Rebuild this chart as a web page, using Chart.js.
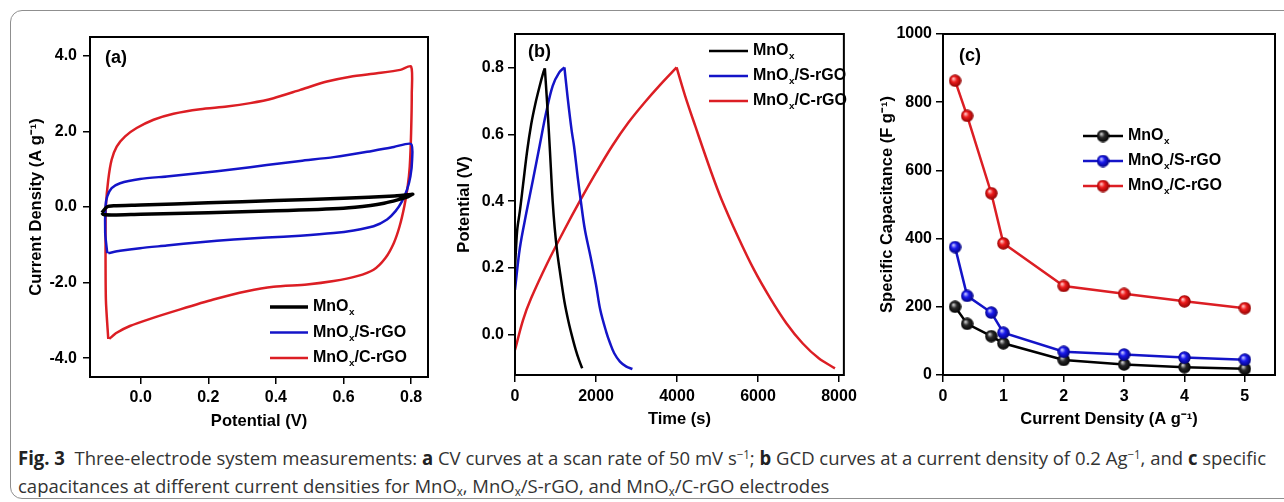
<!DOCTYPE html>
<html><head><meta charset="utf-8">
<script src="https://cdn.jsdelivr.net/npm/chart.js@4.4.1/dist/chart.umd.min.js"></script>
<style>
html,body{margin:0;padding:0;background:#fff;}
body{width:1284px;height:502px;position:relative;overflow:hidden;}
#frame{position:absolute;left:10px;top:10px;width:1300px;height:489px;border:1.5px solid #8f8f8f;border-radius:12px;box-sizing:border-box;}
canvas{position:absolute;top:0;}
#ca{left:0;}
#cb{left:440px;}
#cc{left:862px;}
.cap{position:absolute;left:18px;white-space:nowrap;font-family:"Open Sans",sans-serif;font-size:19px;line-height:24px;color:#333;transform-origin:0 50%;}
.cap b{color:#222;}
.cap .fig{font-weight:700;}
.cap sup{font-size:0.62em;vertical-align:0.55em;line-height:0;}
.cap sub{font-size:0.62em;vertical-align:-0.25em;line-height:0;}
</style></head>
<body>
<div id="frame"></div>
<canvas id="ca" width="440" height="440"></canvas>
<canvas id="cb" width="422" height="440"></canvas>
<canvas id="cc" width="422" height="440"></canvas>
<div class="cap" id="cap1" style="top:446px"><b class="fig">Fig. 3</b>&nbsp; Three-electrode system measurements: <b>a</b> CV curves at a scan rate of 50 mV s<sup>−1</sup>; <b>b</b> GCD curves at a current density of 0.2 Ag<sup>−1</sup>, and <b>c</b> specific</div>
<div class="cap" id="cap2" style="top:474px">capacitances at different current densities for MnO<sub>x</sub>, MnO<sub>x</sub>/S-rGO, and MnO<sub>x</sub>/C-rGO electrodes</div>
<script>
// ---------------- DATA ----------------
const SERIES_NAMES = ['MnO_x', 'MnO_x/S-rGO', 'MnO_x/C-rGO'];

// (a) CV curves: potential (V) vs current density (A g-1)
const CV_MNOX_V = [-0.115,-0.100,-0.080,0.000,0.200,0.400,0.600,0.750,0.800,0.805,0.790,0.760,0.720,0.680,0.600,0.400,0.200,0.000,-0.080,-0.110,-0.115];
const CV_MNOX_J = [-0.15,0.00,0.03,0.05,0.11,0.17,0.23,0.29,0.33,0.34,0.27,0.19,0.10,0.04,-0.03,-0.10,-0.15,-0.19,-0.21,-0.20,-0.15];
const CV_S_V = [-0.099,-0.105,-0.104,-0.099,-0.086,-0.061,-0.002,0.077,0.176,0.275,0.373,0.472,0.571,0.670,0.749,0.800,0.803,0.798,0.788,0.773,0.754,0.729,0.689,0.630,0.571,0.472,0.373,0.275,0.176,0.077,-0.002,-0.061,-0.096];
const CV_S_J = [-1.22,-0.69,0.02,0.28,0.50,0.63,0.74,0.81,0.90,1.00,1.11,1.22,1.32,1.46,1.59,1.67,1.25,0.81,0.46,0.15,-0.11,-0.33,-0.51,-0.62,-0.69,-0.76,-0.81,-0.86,-0.93,-1.02,-1.09,-1.16,-1.22];
const CV_C_V = [-0.096,-0.103,-0.104,-0.103,-0.096,-0.086,-0.071,-0.046,-0.012,0.038,0.097,0.176,0.255,0.324,0.393,0.472,0.551,0.620,0.699,0.768,0.800,0.802,0.800,0.796,0.790,0.780,0.766,0.749,0.724,0.689,0.640,0.571,0.492,0.393,0.314,0.215,0.117,0.028,-0.032,-0.071,-0.093];
const CV_C_J = [-3.49,-2.45,-0.69,0.02,0.72,1.25,1.60,1.87,2.09,2.31,2.47,2.59,2.66,2.75,2.88,3.10,3.32,3.45,3.54,3.63,3.72,3.01,1.96,1.07,0.55,0.02,-0.51,-0.95,-1.35,-1.66,-1.83,-1.96,-2.05,-2.11,-2.23,-2.45,-2.71,-2.96,-3.15,-3.33,-3.49];
const CV_X_TICKS = [0.0, 0.2, 0.4, 0.6, 0.8];
const CV_Y_TICKS = [-4, -2, 0, 2, 4];

// (b) GCD curves: time (s) vs potential (V)
const GCD_MNOX_T = [0,30,60,120,200,300,400,500,600,700,737,790,840,885,930,980,1040,1120,1220,1320,1400,1500,1580,1660];
const GCD_MNOX_V = [0.20,0.27,0.32,0.37,0.45,0.55,0.63,0.69,0.74,0.785,0.797,0.70,0.60,0.50,0.40,0.32,0.25,0.18,0.10,0.04,0.00,-0.045,-0.075,-0.10];
const GCD_S_T = [0,120,280,445,607,769,931,1093,1220,1300,1400,1457,1550,1620,1725,1863,2000,2105,2250,2348,2450,2591,2750,2899];
const GCD_S_V = [0.135,0.26,0.365,0.465,0.565,0.665,0.745,0.785,0.80,0.71,0.61,0.565,0.47,0.405,0.315,0.235,0.15,0.075,0.01,-0.025,-0.055,-0.08,-0.095,-0.102];
const GCD_C_T = [0,200,400,800,1200,1600,2000,2400,2800,3200,3600,3990,4200,4450,4850,5100,5500,5900,6300,6700,7100,7500,7900];
const GCD_C_V = [-0.045,0.045,0.11,0.215,0.31,0.40,0.485,0.565,0.635,0.695,0.75,0.80,0.715,0.625,0.485,0.405,0.295,0.195,0.11,0.035,-0.025,-0.07,-0.10];
const GCD_X_TICKS = [0, 2000, 4000, 6000, 8000];
const GCD_Y_TICKS = [0.0, 0.2, 0.4, 0.6, 0.8];

// (c) specific capacitance vs current density
const CD_X = [0.2, 0.4, 0.8, 1, 2, 3, 4, 5];
const CAP_MNOX = [200, 150, 114, 93, 44, 31, 23, 18];
const CAP_S = [375, 232, 183, 124, 68, 60, 51, 45];
const CAP_C = [863, 760, 533, 386, 261, 238, 216, 196];
const CAP_X_TICKS = [0, 1, 2, 3, 4, 5];
const CAP_Y_TICKS = [0, 200, 400, 600, 800, 1000];

// ---------------- STYLE ----------------
const FONT = '"Liberation Sans", Arial, Helvetica, sans-serif';
const BLACK = '#000000', BLUE = '#1414c8', RED = '#dc1e24';

function xy(xs, ys){ return xs.map((x,i)=>({x, y: ys[i]})); }
function splitAtPeak(xs, ys){
  let k = 0; ys.forEach((v,i)=>{ if(v > ys[k]) k = i; });
  return [xy(xs.slice(0,k+1), ys.slice(0,k+1)), xy(xs.slice(k), ys.slice(k))];
}
function sphere(base, light, dark){
  const s = 13, c = document.createElement('canvas'); c.width = s; c.height = s;
  const g = c.getContext('2d');
  const grad = g.createRadialGradient(s*0.36, s*0.33, 0.4, s/2, s/2, s/2);
  grad.addColorStop(0, light); grad.addColorStop(0.4, base); grad.addColorStop(1, dark);
  g.fillStyle = grad; g.beginPath(); g.arc(s/2, s/2, s/2 - 0.3, 0, Math.PI*2); g.fill();
  return c;
}
const SPH_K = sphere('#2a2a2a', '#d0d0d0', '#000000');
const SPH_B = sphere('#1a1aee', '#c8c8ff', '#00007a');
const SPH_R = sphere('#ee1c1c', '#ffc8c8', '#8a0000');

function drawRich(ctx, text, x, y, size){
  const parts = text.split(/(_x)/);
  let cx = x;
  ctx.textAlign = 'left'; ctx.textBaseline = 'middle'; ctx.fillStyle = '#000';
  for (const p of parts){
    if (!p) continue;
    if (p === '_x'){
      ctx.font = 'bold ' + (size*0.62) + 'px ' + FONT;
      ctx.fillText('x', cx + 0.5, y + size*0.33);
      cx += ctx.measureText('x').width + 0.5;
    } else {
      ctx.font = 'bold ' + size + 'px ' + FONT;
      ctx.fillText(p, cx, y);
      cx += ctx.measureText(p).width;
    }
  }
}

const DECO = {
  ca: {label:'(a)', lx:15, ly:21, legend:{x0:180, x1:218, tx:223, y0:270, step:25.5,
        items:[{c:BLACK,w:3.5},{c:BLUE,w:2.5},{c:RED,w:2.5}]}},
  cb: {label:'(b)', lx:13, ly:18, legend:{x0:194, x1:233, tx:238, y0:17, step:25,
        items:[{c:BLACK,w:2.5},{c:BLUE,w:2.5},{c:RED,w:2.5}]}},
  cc: {label:'(c)', lx:16, ly:22, legend:{x0:140, x1:180, tx:185, y0:102, step:25,
        items:[{c:BLACK,w:2.5,m:SPH_K},{c:BLUE,w:2.5,m:SPH_B},{c:RED,w:2.5,m:SPH_R}]}}
};

const decoPlugin = {
  id: 'deco',
  afterDatasetsDraw(chart){
    const d = DECO[chart.canvas.id]; if (!d) return;
    const ctx = chart.ctx, a = chart.chartArea;
    ctx.save();
    ctx.strokeStyle = '#000'; ctx.lineWidth = 2;
    ctx.strokeRect(a.left, a.top, a.right - a.left, a.bottom - a.top);
    ctx.fillStyle = '#000'; ctx.font = 'bold 18px ' + FONT;
    ctx.textAlign = 'left'; ctx.textBaseline = 'middle';
    ctx.fillText(d.label, a.left + d.lx, a.top + d.ly);
    const L = d.legend;
    L.items.forEach((it, i) => {
      const y = a.top + L.y0 + i*L.step;
      ctx.strokeStyle = it.c; ctx.lineWidth = it.w; ctx.lineCap = 'butt';
      ctx.beginPath(); ctx.moveTo(a.left + L.x0, y); ctx.lineTo(a.left + L.x1, y); ctx.stroke();
      if (it.m) ctx.drawImage(it.m, a.left + (L.x0 + L.x1)/2 - 6.5, y - 6.5);
      drawRich(ctx, SERIES_NAMES[i], a.left + L.tx, y, 16);
    });
    ctx.restore();
  }
};

function axis(o){
  return {
    type: 'linear', min: o.min, max: o.max,
    afterBuildTicks: s => { s.ticks = o.ticks.map(v => ({value: v})); },
    afterFit: s => { if (o.isX) s.height = o.size; else s.width = o.size; },
    ticks: { color: '#000', font: {family: FONT, size: 16, weight: 'bold'}, padding: o.tpad,
             callback: o.fmt, maxRotation: 0, autoSkip: false },
    grid: { drawOnChartArea: false, drawTicks: true, tickLength: 7, color: '#000', lineWidth: 1.5 },
    border: { display: false },
    title: { display: true, text: o.title, color: '#000', font: {family: FONT, size: 16.5, weight: 'bold'},
             padding: o.isX ? {top: 0, bottom: o.tp} : {top: o.tp, bottom: 0} }
  };
}
const f1 = v => Number(v).toFixed(1);
const f0 = v => String(v);

function makeChart(id, datasets, xo, yo, pad){
  return new Chart(document.getElementById(id), {
    type: 'scatter',
    data: { datasets },
    options: {
      responsive: false, animation: false, events: [],
      layout: { padding: pad },
      plugins: { legend: {display: false}, tooltip: {enabled: false} },
      scales: { x: axis(Object.assign({isX: true}, xo)), y: axis(yo) }
    },
    plugins: [decoPlugin]
  });
}

function lineDs(data, color, width, extra){
  return Object.assign({ data, showLine: true, borderColor: color, backgroundColor: color,
    borderWidth: width, pointRadius: 0, fill: false }, extra || {});
}

// (a)
makeChart('ca', [
  lineDs(xy(CV_MNOX_V, CV_MNOX_J), BLACK, 3.5, {tension: 0.25}),
  lineDs(xy(CV_S_V, CV_S_J), BLUE, 2.5, {tension: 0.25}),
  lineDs(xy(CV_C_V, CV_C_J), RED, 2.5, {tension: 0.25})
], {min: -0.15, max: 0.85, ticks: CV_X_TICKS, fmt: f1, size: 63, tpad: 4, title: 'Potential (V)', tp: 9},
   {min: -4.5, max: 4.5, ticks: CV_Y_TICKS, fmt: f1, size: 90, tpad: 6, title: 'Current Density (A g⁻¹)', tp: 27},
   {left: 0, top: 37, right: 12, bottom: 0});

// (b)
const gcd = [];
[[GCD_MNOX_T, GCD_MNOX_V, BLACK], [GCD_S_T, GCD_S_V, BLUE], [GCD_C_T, GCD_C_V, RED]].forEach(([t, v, c]) => {
  splitAtPeak(t, v).forEach(part => gcd.push(lineDs(part, c, 2.5, {tension: 0.35})));
});
makeChart('cb', gcd,
  {min: 0, max: 8120, ticks: GCD_X_TICKS, fmt: f0, size: 65, tpad: 5, title: 'Time (s)', tp: 11},
  {min: -0.12, max: 0.9, ticks: GCD_Y_TICKS, fmt: f1, size: 75, tpad: 4, title: 'Potential (V)', tp: 15},
  {left: 0, top: 34, right: 13, bottom: 0});

// (c)
function capDs(ys, color, img){
  return lineDs(xy(CD_X, ys), color, 2.5, {pointRadius: 6.5, pointStyle: img, tension: 0});
}
makeChart('cc', [
  capDs(CAP_S, BLUE, SPH_B),
  capDs(CAP_MNOX, BLACK, SPH_K),
  capDs(CAP_C, RED, SPH_R)
], {min: 0, max: 5.5, ticks: CAP_X_TICKS, fmt: f0, size: 65, tpad: 5, title: 'Current Density (A g⁻¹)', tp: 11},
   {min: 0, max: 1000, ticks: CAP_Y_TICKS, fmt: f0, size: 81, tpad: 4, title: 'Specific Capacitance (F g⁻¹)', tp: 16},
   {left: 0, top: 34, right: 6, bottom: 0});

// caption fit
(function(){
  const c1 = document.getElementById('cap1'), c2 = document.getElementById('cap2');
  const w = c1.getBoundingClientRect().width;
  const s = 1248 / w;
  c1.style.transform = 'scaleX(' + s + ')';
  c2.style.transform = 'scaleX(' + s + ')';
})();
</script>
</body></html>
